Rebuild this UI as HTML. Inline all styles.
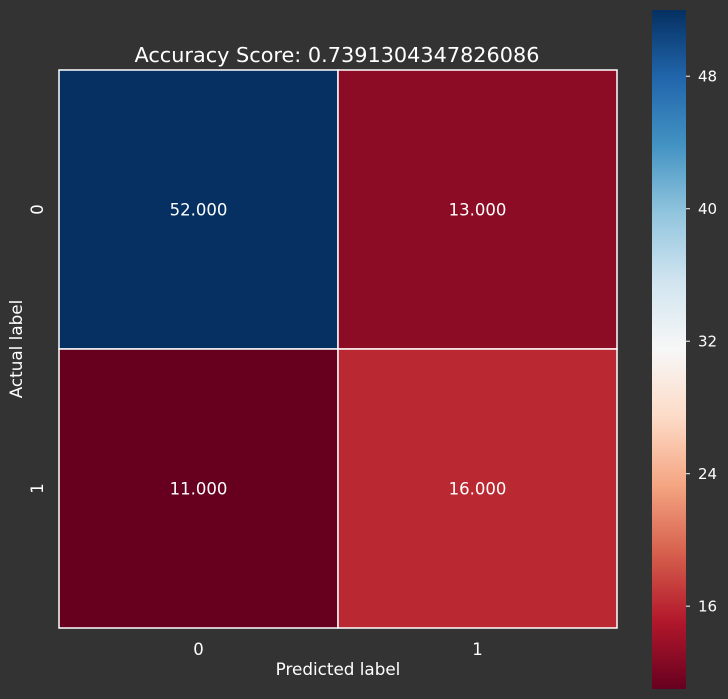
<!DOCTYPE html>
<html><head><meta charset="utf-8"><style>
body{margin:0;background:#333333;}
svg{display:block;font-family:"DejaVu Sans","Liberation Sans",sans-serif;}
</style></head><body>
<svg id="c" width="728" height="699"></svg>
<script>
const rows=["0","1"];
const cols=["0","1"];
const values=[[52,13],[11,16]];
const cbTicks=[16,24,32,40,48];
const title="Accuracy Score: 0.7391304347826086";
const vmin=11, vmax=52;
const stops=["#67001f","#b2182b","#d6604d","#f4a582","#fddbc7","#f7f7f7","#d1e5f0","#92c5de","#4393c3","#2166ac","#053061"];
const NS="http://www.w3.org/2000/svg";
const svg=document.getElementById('c');
function mk(t,a,p){const e=document.createElementNS(NS,t);for(const k in a)e.setAttribute(k,a[k]);(p||svg).appendChild(e);return e;}
function hex(h){return [1,3,5].map(i=>parseInt(h.substr(i,2),16));}
function cmap(v){let t=(v-vmin)/(vmax-vmin);t=Math.max(0,Math.min(1,t));const f=t*(stops.length-1);const i=Math.min(stops.length-2,Math.floor(f));const r=f-i;const a=hex(stops[i]),b=hex(stops[i+1]);return `rgb(${a.map((x,k)=>Math.round(x+(b[k]-x)*r)).join(',')})`;}
const X0=59,Y0=70,W=558,H=558;
const cw=W/cols.length,ch=H/rows.length;
const xs=j=>X0+j*cw, ys=i=>Y0+i*ch;
let t=mk('text',{x:337,y:62,fill:'#fff','font-size':20.8,'text-anchor':'middle'});t.textContent=title;

values.forEach((row,i)=>row.forEach((v,j)=>{
 const r=mk('rect',{x:xs(j),y:ys(i),width:cw,height:ch,fill:cmap(v),stroke:'#fff','stroke-width':1.5});
 
 const tx=mk('text',{x:xs(j)+cw/2,y:ys(i)+ch/2+6,fill:'#fff','font-size':16.5,'text-anchor':'middle'});
 tx.textContent=v.toFixed(3);
 
}));
cols.forEach((c,j)=>{const tx=mk('text',{x:xs(j)+cw/2,y:655,fill:'#fff','font-size':16.5,'text-anchor':'middle'});tx.textContent=c;
 });
rows.forEach((c,i)=>{const cy=ys(i)+ch/2;const tx=mk('text',{x:43,y:cy,fill:'#fff','font-size':16.5,'text-anchor':'middle',transform:`rotate(-90 43 ${cy})`});tx.textContent=c;
 });
let xl=mk('text',{x:338,y:675,fill:'#fff','font-size':16.8,'text-anchor':'middle'});xl.textContent="Predicted label";

let yl=mk('text',{x:22,y:349,fill:'#fff','font-size':16.8,'text-anchor':'middle',transform:'rotate(-90 22 349)'});yl.textContent="Actual label";

const CB={x:652,y:10,w:34,h:679};
const defs=mk('defs',{});const g=mk('linearGradient',{id:'g',x1:0,y1:1,x2:0,y2:0},defs);
stops.forEach((s,k)=>mk('stop',{offset:k/(stops.length-1),'stop-color':s},g));
const cb=mk('rect',{x:CB.x,y:CB.y,width:CB.w,height:CB.h,fill:'url(#g)'});

const cy=v=>CB.y+CB.h*(1-(v-vmin)/(vmax-vmin));
cbTicks.forEach(v=>{const y=cy(v);mk('line',{x1:CB.x+CB.w,x2:CB.x+CB.w+4,y1:y,y2:y,stroke:'#fff','stroke-width':1});
 const tx=mk('text',{x:CB.x+CB.w+12,y:y+5.5,fill:'#fff','font-size':15});tx.textContent=v;
 });
</script>
</body></html>
